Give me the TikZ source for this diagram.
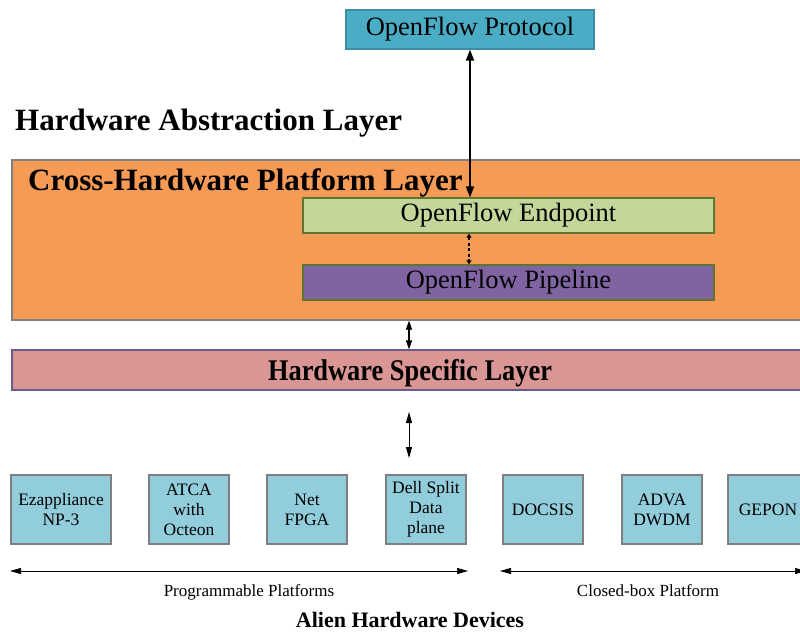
\documentclass[tikz,border=0pt]{standalone}
\usepackage{fontspec}
\setmainfont{Liberation Serif}
\usetikzlibrary{arrows.meta}

\definecolor{protoFill}{HTML}{4BACC6}
\definecolor{protoLine}{HTML}{3A8FA5}
\definecolor{orangeFill}{HTML}{F69B55}
\definecolor{grayLine}{HTML}{7F7F7F}
\definecolor{endpFill}{HTML}{C4D79B}
\definecolor{oliveLine}{HTML}{5E7530}
\definecolor{pipeFill}{HTML}{8064A2}
\definecolor{hslFill}{HTML}{D99694}
\definecolor{hslLine}{HTML}{6B5B8B}
\definecolor{devFill}{HTML}{92CDDC}

\tikzset{
  box/.style={rectangle, inner sep=0pt, line width=1.2pt},
  devbox/.style={box, draw=grayLine, fill=devFill, minimum width=80pt,
    minimum height=69pt, align=center, font=\fontsize{17.5}{20}\selectfont},
  midtext/.style={font=\fontsize{26.5}{30}\selectfont},
  boldhead/.style={inner sep=0pt, font=\fontsize{31}{34}\selectfont\bfseries},
  bigarrow/.style={line width=1.6pt, {Triangle[length=11pt,width=8pt]}-{Triangle[length=11pt,width=8pt]}},
  smallarrow/.style={line width=1.1pt, {Triangle[length=9pt,width=6pt]}-{Triangle[length=9pt,width=6pt]}},
  thinarrow/.style={line width=0.7pt, {Triangle[length=11pt,width=6pt]}-{Triangle[length=11pt,width=6pt]}},
  dasharrow/.style={line width=1.1pt, dashed, dash pattern=on 3pt off 2.5pt, {Triangle[length=4pt,width=5pt]}-{Triangle[length=4pt,width=5pt]}},
  plainlabel/.style={inner sep=0pt, font=\fontsize{17}{20}\selectfont}
}

\begin{document}
\begin{tikzpicture}[x=1pt, y=-1pt]
\useasboundingbox (0,0) rectangle (800,632);
\clip (0,0) rectangle (800,632);

% top protocol box
\node[box, draw=protoLine, fill=protoFill, minimum width=248pt, minimum height=39pt, midtext]
  (proto) at (470,29.5) {OpenFlow Protocol};

\node[boldhead, anchor=base west] (hal) at (15,130) {Hardware Abstraction Layer};

% cross-hardware platform layer
\node[box, draw=grayLine, fill=orangeFill, minimum width=795pt, minimum height=160pt]
  (chpl) at (409.5,240) {};
\node[boldhead, anchor=base west] (chpltext) at (28,190) {Cross-Hardware Platform Layer};

\node[box, draw=oliveLine, fill=endpFill, minimum width=411pt, minimum height=35pt, midtext]
  (endp) at (508.5,215.5) {OpenFlow Endpoint};
\node[box, draw=oliveLine, fill=pipeFill, minimum width=411pt, minimum height=35pt, midtext]
  (pipe) at (508.5,282.5) {OpenFlow Pipeline};

% hardware specific layer
\node[box, draw=hslLine, fill=hslFill, minimum width=795pt, minimum height=40pt]
  (hsl) at (409.5,370) {};
\node[inner sep=0pt, anchor=base] (hsltext) at (410,380)
  {\scalebox{0.88}[1]{\fontsize{30}{32}\selectfont\bfseries Hardware Specific Layer}};

% device boxes
\node[devbox, minimum width=100pt] (eza)   at (61,509.5)  {Ezappliance\\NP-3};
\node[devbox] (atca)  at (189,509.5) {ATCA\\with\\Octeon};
\node[devbox] (nfpga) at (307,509.5) {Net\\FPGA};
\node[devbox] (dell)  at (426,509.5) {Dell Split\\Data\\plane};
\node[devbox] (docsis) at (543,509.5) {DOCSIS};
\node[devbox] (adva)  at (662,509.5) {ADVA\\DWDM};
\node[devbox] (gepon) at (768,509.5) {GEPON};

% connectors
\draw[bigarrow] (proto.south) -- (proto.south |- endp.north);
\draw[dasharrow] (endp.south -| 469,0) -- (pipe.north -| 469,0);
\draw[smallarrow] (chpl.south -| 409,0) -- (hsl.north -| 409,0);

\coordinate (devtop) at (409,412);
\coordinate (devbot) at (409,458);
\draw[thinarrow, line width=0.9pt] (devtop) -- (devbot);

\coordinate (progL) at (10,571);
\coordinate (progR) at (468,571);
\coordinate (closL) at (500,571);
\coordinate (closR) at (806,571);
\draw[thinarrow] (progL) -- (progR);
\draw[thinarrow] (closL) -- (closR);

\node[plainlabel, anchor=base] (proglabel) at (249,596) {Programmable Platforms};
\node[plainlabel, anchor=base] (closlabel) at (648,596) {Closed-box Platform};
\node[inner sep=0pt, anchor=base, font=\fontsize{22}{24}\selectfont\bfseries] (alien) at (410,627) {Alien Hardware Devices};
\end{tikzpicture}
\end{document}
